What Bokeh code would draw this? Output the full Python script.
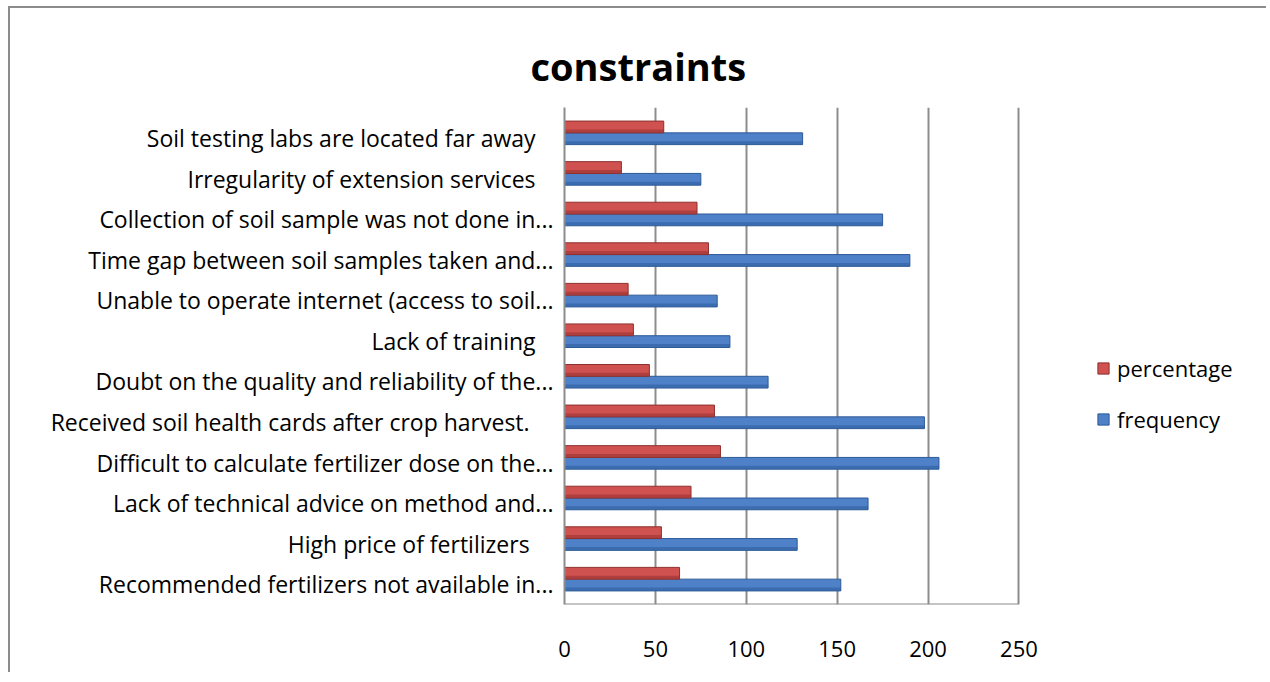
from bokeh.plotting import figure
from bokeh.models import Range1d, FixedTicker, Legend, LegendItem, ColumnDataSource
from bokeh.transform import dodge
from bokeh.embed import file_html
from bokeh.resources import INLINE

NB = "\u00a0"
categories = [
    "Recommended fertilizers not available in...",
    "High price of fertilizers" + NB * 4,
    "Lack of technical advice on method and...",
    "Difficult to calculate fertilizer dose on the...",
    "Received soil health cards after crop harvest." + NB * 4,
    "Doubt on the quality and reliability of the...",
    "Lack of training" + NB * 3,
    "Unable to operate internet (access to soil...",
    "Time gap between soil samples taken and...",
    "Collection of soil sample was not done in...",
    "Irregularity of extension services" + NB * 3,
    "Soil testing labs are located far away" + NB * 3,
]
frequency = [152, 128, 167, 206, 198, 112, 91, 84, 190, 175, 75, 131]
percentage = [63.3, 53.3, 69.6, 85.8, 82.5, 46.7, 37.9, 35.0, 79.2, 72.9, 31.3, 54.6]
x_ticks = [0, 50, 100, 150, 200, 250]
series_names = ["percentage", "frequency"]
title_text = "constraints"

ypos = list(range(len(categories)))
src = ColumnDataSource(dict(y=ypos, freq=frequency, pct=percentage, cat=categories))
floor = ColumnDataSource(dict(x0=[x_ticks[0]], x1=[x_ticks[-1]], y=[-0.5]))

FONT = "Open Sans"
GRID = "#8c8c8c"

# frame spans the area right of the labels up to the legend; 250 sits at ~454px from 0
p = figure(width=1258, height=666,
           x_range=Range1d(0, 384), y_range=Range1d(-0.5, 11.75),
           output_backend="svg", toolbar_location=None,
           min_border_left=554, min_border_right=6,
           min_border_top=99, min_border_bottom=70)
p.outline_line_color = None
p.background_fill_color = "white"
p.border_fill_color = "white"
p.styles = {"border-top": "2px solid #8c8c8c", "border-left": "2px solid #8c8c8c",
            "margin-left": "8px", "margin-top": "6px"}

# title
p.title.text = title_text
p.title.text_font = FONT
p.title.text_font_style = "bold"
p.title.text_font_size = "38px"
p.title.text_color = "black"
p.title.align = "left"
p.title.offset = -34
p.title.standoff = 31

# x axis (labels only; floor drawn separately)
p.xaxis.ticker = FixedTicker(ticks=x_ticks)
p.xaxis.axis_line_color = None
p.xaxis.major_tick_line_color = None
p.xaxis.minor_tick_line_color = None
p.xaxis.major_label_text_font = FONT
p.xaxis.major_label_text_font_size = "22px"
p.xaxis.major_label_text_color = "black"
p.xaxis.major_label_standoff = 30

# y axis
p.yaxis.ticker = FixedTicker(ticks=ypos)
p.yaxis.major_label_overrides = {i: c for i, c in zip(ypos, categories)}
p.yaxis.axis_line_color = GRID
p.yaxis.axis_line_width = 2
p.yaxis.major_tick_line_color = None
p.yaxis.minor_tick_line_color = None
p.yaxis.major_label_text_font = FONT
p.yaxis.major_label_text_font_size = "23px"
p.yaxis.major_label_text_color = "black"
p.yaxis.major_label_standoff = 5

p.xgrid.ticker = FixedTicker(ticks=x_ticks)
p.xgrid.grid_line_color = GRID
p.xgrid.grid_line_width = 2
p.ygrid.visible = False

p.segment(x0="x0", x1="x1", y0="y", y1="y", source=floor, line_color=GRID, line_width=2)

blue = p.hbar(y=dodge("y", -0.02), left=0, right="freq", height=0.29, source=src,
              fill_color="#4F81C9", line_color="#2C5A96", line_width=1)
p.hbar(y=dodge("y", -0.12), left=0, right="freq", height=0.08, source=src,
       fill_color="#2F5F9F", fill_alpha=0.6, line_color=None)
red = p.hbar(y=dodge("y", 0.27), left=0, right="pct", height=0.29, source=src,
             fill_color="#D05250", line_color="#8E2F2D", line_width=1)
p.hbar(y=dodge("y", 0.17), left=0, right="pct", height=0.08, source=src,
       fill_color="#9A3432", fill_alpha=0.6, line_color=None)

legend = Legend(items=[LegendItem(label=series_names[0], renderers=[red]),
                       LegendItem(label=series_names[1], renderers=[blue])],
                location=(532, 170))
legend.label_text_font = FONT
legend.label_text_font_size = "22px"
legend.label_text_color = "black"
legend.glyph_width = 14
legend.glyph_height = 14
legend.label_height = 30
legend.label_standoff = 7
legend.spacing = 21
legend.padding = 0
legend.margin = 0
legend.border_line_color = None
legend.background_fill_alpha = 0
p.add_layout(legend)

open("out.html", "w").write(file_html(p, INLINE))
